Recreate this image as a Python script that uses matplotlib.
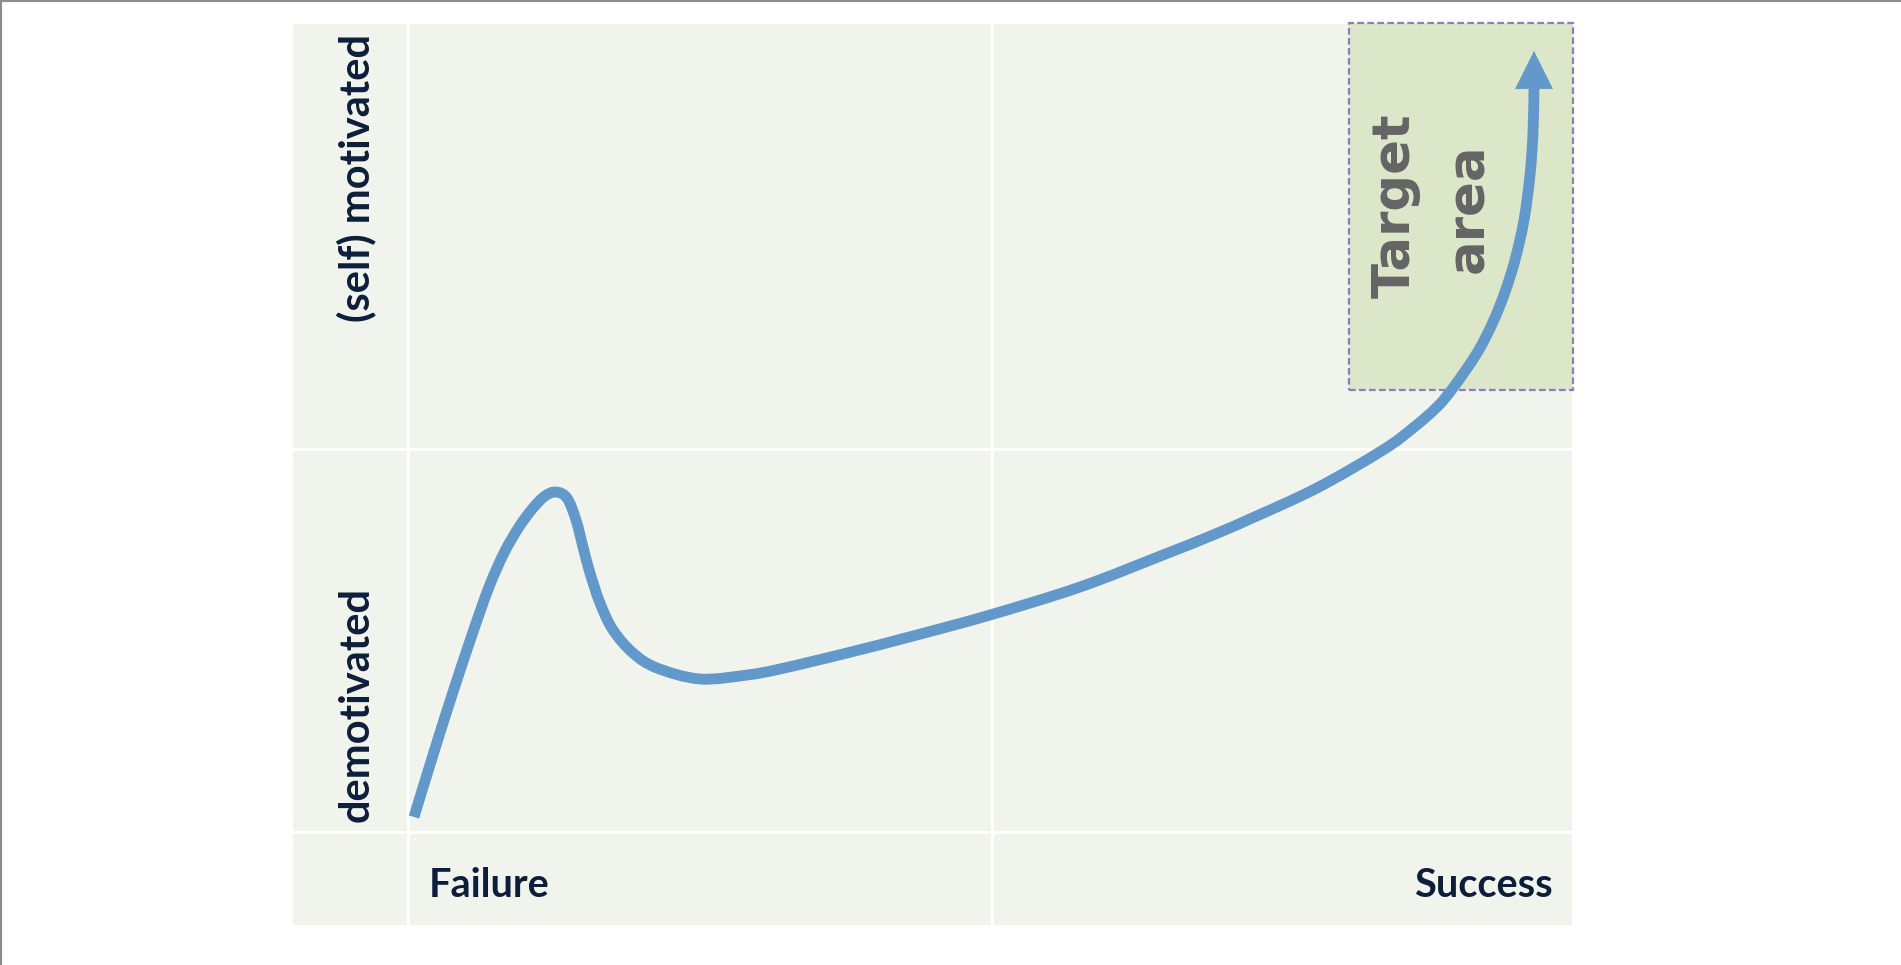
import numpy as np
import matplotlib
matplotlib.use("Agg")
import matplotlib.pyplot as plt
from matplotlib.patches import Rectangle, PathPatch
from matplotlib.path import Path
from matplotlib.lines import Line2D

# Motivation curve (x = progress from failure to success, y = motivation)
progress = [121, 140, 160, 180, 196, 211, 226, 240, 252, 263, 274, 283, 290, 297,
            307, 320, 340, 364, 407, 454, 487, 554, 620, 697, 787, 870, 920, 957,
            1024, 1090, 1120, 1144, 1160, 1184, 1200, 1212, 1222, 1231, 1237,
            1240, 1241]
motivation = [108, 170, 233, 293, 338, 372, 398, 417, 429, 433, 427, 405, 378, 352,
              322, 295, 272, 257, 246, 250, 256, 272, 289, 310, 338, 370, 390, 406,
              437, 475, 497, 518, 537, 572, 603, 633, 665, 705, 750,
              792, 838]
arrow_tip = (1241, 874)

# grid of the panel
x_lim = (0, 1279)
y_lim = (0, 901)
x_splits = [115, 699]
y_splits = [93, 476]

# target area box (x0, y0, x1, y1)
target_box = (1056, 535, 1280, 902)

y_labels = ["(self) motivated", "demotivated"]
y_label_pos = [747, 220]
x_labels = ["Failure", "Success"]

navy = "#0d1e3a"
blue = "#6398ca"
panel = "#f1f4ec"


def smooth_path(xs, ys):
    # bezier segments through the points (catmull-rom style handles)
    p = np.column_stack([xs, ys]).astype(float)
    p = np.vstack([p[0], p, p[-1]])
    verts = [p[1]]
    codes = [Path.MOVETO]
    for i in range(1, len(p) - 2):
        c1 = p[i] + (p[i + 1] - p[i - 1]) / 6
        c2 = p[i + 1] - (p[i + 2] - p[i]) / 6
        verts += [c1, c2, p[i + 1]]
        codes += [Path.CURVE4] * 3
    return Path(verts, codes)


fig = plt.figure(figsize=(19.01, 9.65), dpi=100)
fig.patch.set_facecolor("white")
ax = fig.add_axes([293 / 1901, 40 / 965, 1279 / 1901, 901 / 965])
ax.set_xlim(*x_lim)
ax.set_ylim(*y_lim)
ax.set_facecolor(panel)
for s in ax.spines.values():
    s.set_visible(False)
ax.set_xticks([])
ax.set_yticks([])

for x in x_splits:
    ax.axvline(x, color="white", lw=2.2, zorder=1)
for y in y_splits:
    ax.axhline(y, color="white", lw=2.2, zorder=1)

bx0, by0, bx1, by1 = target_box
ax.add_patch(Rectangle((bx0, by0), bx1 - bx0, by1 - by0, facecolor="#dce6c8",
                       edgecolor="#8a7fb6", lw=1.6, linestyle=(0, (3, 1.5)),
                       zorder=2, clip_on=False))

ax.add_patch(PathPatch(smooth_path(progress, motivation), facecolor="none",
                       edgecolor=blue, lw=7.8, capstyle="butt",
                       joinstyle="round", zorder=4))
ax.annotate("", xy=arrow_tip, xytext=(progress[-1], motivation[-1] - 10),
            arrowprops=dict(arrowstyle="-|>,head_length=26.6,head_width=13.3",
                            mutation_scale=1, color=blue, lw=0.5,
                            shrinkA=0, shrinkB=0), zorder=5)

# text
fam = ["Lato", "DejaVu Sans"]
for lab, yp in zip(y_labels, y_label_pos):
    ax.text(76, yp, lab, rotation=90, rotation_mode="anchor", ha="center",
            va="baseline", fontsize=30, fontweight="bold", color=navy, family=fam)

ax.text(136, 28, x_labels[0], ha="left", va="baseline", fontsize=28.5,
        fontweight="bold", color=navy, family=fam)
ax.text(1260, 28, x_labels[1], ha="right", va="baseline", fontsize=28.5,
        fontweight="bold", color=navy, family=fam)

ax.text(1117, 719, "Target", rotation=90, rotation_mode="anchor", ha="center",
        va="baseline", fontsize=37, fontweight="bold", color="#646464",
        family="DejaVu Sans")
ax.text(1190, 717, "area", rotation=90, rotation_mode="anchor", ha="center",
        va="baseline", fontsize=37, fontweight="bold", color="#646464",
        family="DejaVu Sans")

# thin frame on top and left of the image
fig.add_artist(Line2D([0, 1], [0.999, 0.999], color="#8c8c8c", lw=1.5))
fig.add_artist(Line2D([0.0006, 0.0006], [0, 1], color="#8c8c8c", lw=1.5))

fig.savefig("out.png", dpi=100, facecolor="white")
